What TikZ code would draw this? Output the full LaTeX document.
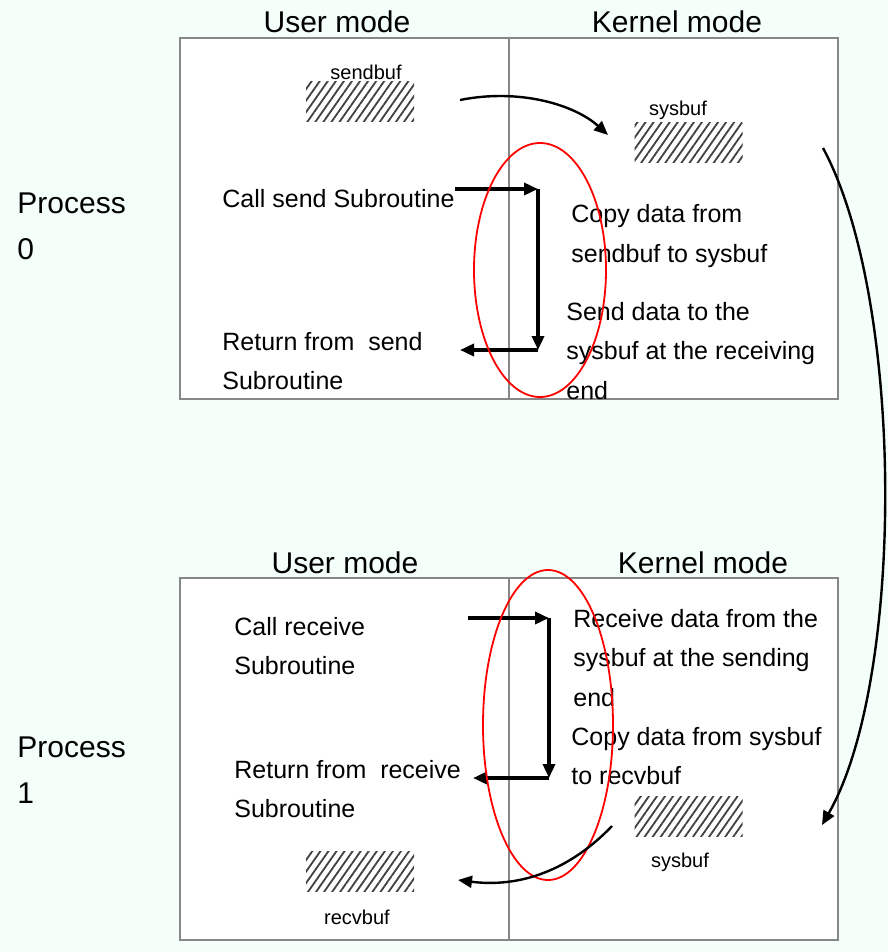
\documentclass[tikz,border=0pt]{standalone}
\usepackage{fontspec}
\setmainfont{Liberation Sans}
\usetikzlibrary{arrows.meta,patterns.meta,shapes.geometric}
\definecolor{mint}{RGB}{244,255,250}
\definecolor{frame}{RGB}{135,135,135}
\begin{document}
\begin{tikzpicture}[x=0.5pt,y=-0.5pt,
  >={Triangle[length=7pt,width=6pt]},
  head/.style={font=\fontsize{15}{23}\selectfont,inner sep=0pt},
  txt/.style={font=\fontsize{12.5}{19.75}\selectfont,align=left,anchor=west,inner sep=0pt},
  tag/.style={font=\fontsize{10}{12}\selectfont,inner sep=0pt},
  panel/.style={draw=frame,line width=1pt,fill=white,minimum width=329pt,minimum height=180.5pt,inner sep=0pt},
  buf/.style={pattern={Lines[angle=55,distance=3.3pt,line width=0.9pt]},pattern color=black!75,minimum width=54pt,minimum height=20pt,inner sep=0pt},
  ring/.style={ellipse,draw=red,line width=0.9pt,inner sep=0pt},
  flow/.style={->,line width=1.7pt},
  hop/.style={->,line width=1.2pt}]
\fill[mint] (0,0) rectangle (888,952);
\useasboundingbox (0,0) rectangle (888,952);
\node[panel] (p0) at (509,218.5) {};
\draw[frame,line width=1pt] (p0.north) -- (p0.south);
\node[head] (u0) at (337,22) {User mode};
\node[head] (k0) at (677,22) {Kernel mode};
\node[head,align=left,anchor=west] (n0) at (17,226) {Process\\0};
\node[buf] (sb) at (360,102) {};
\node[tag] (sbl) at (366,72) {sendbuf};
\node[buf] (yb0) at (688.5,142.5) {};
\node[tag] (ybl0) at (678,110) {sysbuf};
\node[txt] (cs) at (222,199) {Call send Subroutine};
\node[txt] (cp) at (571,236) {Copy data from\\sendbuf to sysbuf};
\node[txt] (sd) at (566,351) {Send data to the\\sysbuf at the receiving\\end};
\node[txt] (rs) at (222,361) {Return from~ send\\Subroutine};
\coordinate (a0) at (455,189);
\coordinate (b0) at (538,189);
\coordinate (c0) at (538,350);
\coordinate (d0) at (460,350);
\draw[flow] (a0) -- (b0);
\draw[flow] (b0) -- (c0);
\draw[flow] (c0) -- (d0);
\node[ring,minimum width=66pt,minimum height=127pt] (e0) at (540,270) {};
\coordinate (s0) at (460,100);
\coordinate (t0) at (608,135);
\draw[hop] (s0) .. controls (520,88) and (575,105) .. (t0);
\node[panel,minimum height=181pt] (p1) at (509,759) {};
\draw[frame,line width=1pt] (p1.north) -- (p1.south);
\node[head] (u1) at (345,563) {User mode};
\node[head] (k1) at (703,563) {Kernel mode};
\node[head,align=left,anchor=west] (n1) at (17,770) {Process\\1};
\node[txt] (cr) at (234,646) {Call receive\\Subroutine};
\node[txt] (rd) at (573,658) {Receive data from the\\sysbuf at the sending\\end};
\node[txt] (cd) at (571,756) {Copy data from sysbuf\\to recvbuf};
\node[txt] (rr) at (234,789) {Return from~ receive\\Subroutine};
\node[buf] (yb1) at (688.5,816.5) {};
\node[tag] (ybl1) at (680,862) {sysbuf};
\node[buf] (rb) at (360,871.5) {};
\node[tag] (rbl) at (357,917) {recvbuf};
\coordinate (a1) at (468,618);
\coordinate (b1) at (549,618);
\coordinate (c1) at (549,778);
\coordinate (d1) at (473,778);
\draw[flow] (a1) -- (b1);
\draw[flow] (b1) -- (c1);
\draw[flow] (c1) -- (d1);
\node[ring,minimum width=65pt,minimum height=155pt] (e1) at (548,725) {};
\coordinate (s2) at (612,826);
\coordinate (t2) at (458,880);
\draw[hop] (s2) .. controls (570,870) and (520,888) .. (t2);
\coordinate (s1) at (823,148);
\coordinate (t1) at (822,825);
\draw[hop] (s1) .. controls (905,300) and (905,680) .. (t1);
\end{tikzpicture}
\end{document}
